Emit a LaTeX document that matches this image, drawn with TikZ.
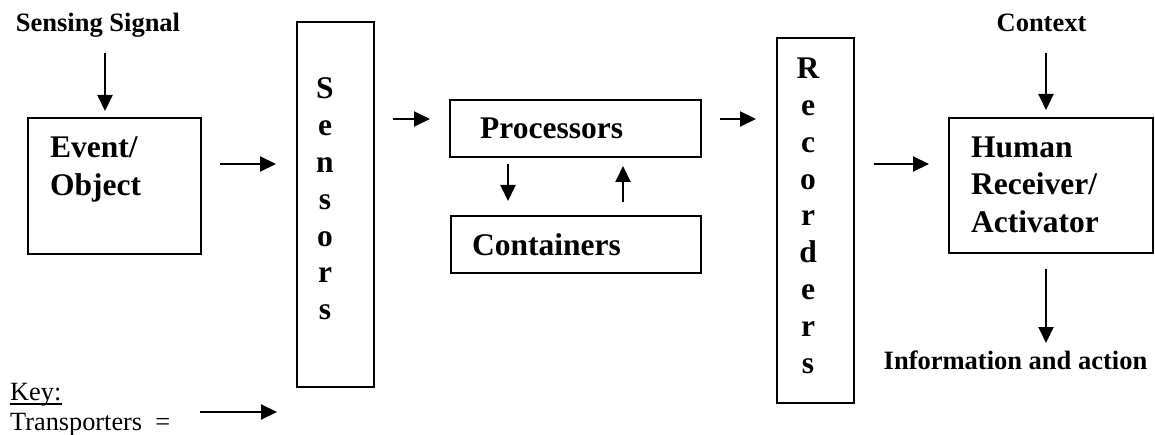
\documentclass[tikz,border=0pt]{standalone}
\usepackage{fontspec}
\setmainfont{Liberation Serif}
\usetikzlibrary{arrows.meta}
\begin{document}
\begin{tikzpicture}[x=1pt,y=-1pt,
  box/.style={draw,line width=2pt,inner sep=0pt},
  flow/.style={line width=2pt,-{Triangle[length=16pt,width=15pt]}},
  tag/.style={font=\fontsize{26.5}{30}\selectfont\bfseries,inner sep=0pt,anchor=base},
  big/.style={font=\fontsize{31.5}{36}\selectfont\bfseries,inner sep=0pt,anchor=base west},
  letter/.style={font=\fontsize{31.5}{36}\selectfont\bfseries,inner sep=0pt,anchor=base},
  plain/.style={font=\fontsize{26.3}{30}\selectfont,inner sep=0pt,anchor=base west}]

\useasboundingbox (0,0) rectangle (1155,435);

% blocks
\node[box,minimum width=173pt,minimum height=136pt] (event)   at (114.5,186)  {};
\node[box,minimum width=77pt, minimum height=365pt] (sensors) at (335.5,204.5) {};
\node[box,minimum width=251pt,minimum height=57pt]  (proc)    at (575.5,128.5) {};
\node[box,minimum width=250pt,minimum height=57pt]  (cont)    at (575.5,244.5) {};
\node[box,minimum width=77pt, minimum height=365pt] (rec)     at (815.5,220.5) {};
\node[box,minimum width=204pt,minimum height=135pt] (human)   at (1051,185.5)  {};

% block texts
\node[big] (event-1) at (50,158) {Event/};
\node[big] (event-2) at (50,196) {Object};
\node[big] (proc-t)  at (480,139) {Processors};
\node[big] (cont-t)  at (472,256) {Containers};
\node[big] (human-1) at (971,158) {Human};
\node[big] (human-2) at (971,195) {Receiver/};
\node[big] (human-3) at (971,233) {Activator};
\foreach \c [count=\i] in {S,e,n,s,o,r,s}
  \node[letter] (sensors-\i) at (325,{99+36.8*(\i-1)}) {\c};
\foreach \c [count=\i] in {R,e,c,o,r,d,e,r,s}
  \node[letter] (rec-\i) at (808,{79+36.75*(\i-1)}) {\c};

% outer labels
\node[tag] (signal)  at (98,32)     {Sensing Signal};
\node[tag] (context) at (1041.5,32) {Context};
\node[tag] (info)    at (1015.5,369) {Information and action};

% key
\node[plain] (key)   at (10,400) {Key:};
\node[plain] (trans) at (10,430) {Transporters\ \ =};
\draw[line width=1.2pt] ([yshift=-4pt]key.base west) -- ([yshift=-4pt]key.base east);
\coordinate (key-a) at (200,412);
\coordinate (key-b) at (277,412);
\draw[flow] (key-a) -- (key-b);

% transporters
\draw[flow] ([xshift=7pt,yshift=-21pt]signal.base) -- ([xshift=-9.5pt,yshift=6pt]event.north);
\draw[flow] ([xshift=18pt,yshift=22pt]event.east) -- ([xshift=-20pt,yshift=40.5pt]sensors.west);
\draw[flow] ([xshift=18pt,yshift=85.5pt]sensors.east) -- ([xshift=-19pt,yshift=9.5pt]proc.west);
\draw[flow] ([xshift=-67.5pt,yshift=-6pt]proc.south) -- ([xshift=-67.5pt,yshift=14pt]cont.north);
\draw[flow] ([xshift=47.5pt,yshift=13pt]cont.north) -- ([xshift=47.5pt,yshift=-8pt]proc.south);
\draw[flow] ([xshift=18pt,yshift=9.5pt]proc.east) -- ([xshift=-20pt,yshift=101.5pt]rec.west);
\draw[flow] ([xshift=19pt,yshift=56.5pt]rec.east) -- ([xshift=-19pt,yshift=21.5pt]human.west);
\draw[flow] ([xshift=4.5pt,yshift=-21pt]context.base) -- ([xshift=-5pt,yshift=7pt]human.north);
\draw[flow] ([xshift=-5pt,yshift=-15pt]human.south) -- ([xshift=30.5pt,yshift=26pt]info.base);
\end{tikzpicture}
\end{document}
